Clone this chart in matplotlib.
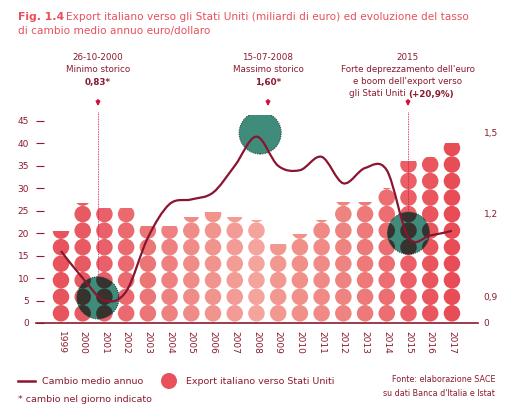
import matplotlib
matplotlib.use("Agg")
import matplotlib.pyplot as plt
import numpy as np
from matplotlib.patches import Ellipse, Rectangle
from matplotlib.path import Path
from matplotlib.patches import PathPatch

years = list(range(1999, 2018))
export = [20.5, 26.8, 25.5, 25.5, 21.5, 21.5, 23.5, 24.8, 23.5, 23.0, 17.5, 19.8, 23.0, 27.0, 27.0, 30.0, 36.0, 37.0, 40.0]
rate = [1.068, 0.969, 0.887, 0.920, 1.117, 1.240, 1.257, 1.282, 1.380, 1.487, 1.380, 1.364, 1.413, 1.316, 1.372, 1.364, 1.117, 1.125, 1.142]
colors = ["#e8545d", "#e85a62", "#e9606a", "#ea6a70", "#ec7676", "#ee8080", "#f08c88", "#f2948e", "#f39c95", "#f4a49c",
          "#f29890", "#f09088", "#ef8a84", "#ee8480", "#ed7a78", "#ec6e70", "#ea6066", "#e9565e", "#e84c56"]
right_ticks = ["0", "0,9", "1,2", "1,5"]

DARK = "#8b1a2e"
PINK = "#e8505b"

def r2u(v):
    return 5.8 + (np.asarray(v) - 0.9) * 60.8

W, H = 508, 412
fig = plt.figure(figsize=(W/100, H/100), dpi=100)
ax = fig.add_axes([36/W, (H-323)/H, 442/W, 208/H])
ax.set_xlim(1997.85, 2018.2)
ax.set_ylim(0, 46.3)
for s in ["top", "right", "left"]:
    ax.spines[s].set_visible(False)
ax.spines["bottom"].set_color(DARK)
ax.spines["bottom"].set_linewidth(1.2)

rx, ry = 0.38, 1.84
step = 3.68
for x, v, c in zip(years, export, colors):
    clip = Rectangle((x-0.5, 0), 1, v, transform=ax.transData, visible=False)
    ax.add_patch(clip)
    k = 0
    while 2.16 + k*step - ry < v:
        e = Ellipse((x, 2.16 + k*step), 2*rx, 2*ry, color=c, lw=0, zorder=2)
        ax.add_patch(e)
        e.set_clip_path(clip)
        k += 1

# green highlight circles
for (cx, cy) in [(2000.7, 5.6), (2008.17, 42.3), (2015.0, 20.0)]:
    circ = Ellipse((cx, cy), 2*21/21.7, 2*21/4.489, facecolor="#3f8c7a", edgecolor="#2d4a44",
                   lw=0.8, ls=(0, (1, 1)), zorder=3)
    ax.add_patch(circ)
    for x, v in zip(years, export):
        k = 0
        while 2.16 + k*step - ry < v:
            d = Ellipse((x, 2.16 + k*step), 2*rx, 2*ry, color="#36332f", lw=0, zorder=4)
            ax.add_patch(d)
            d.set_clip_path(circ)
            k += 1

# smooth line (Catmull-Rom -> Bezier)
pts = np.column_stack([years, r2u(rate)])
verts = [tuple(pts[0])]; codes = [Path.MOVETO]
for i in range(len(pts)-1):
    p0 = pts[max(i-1, 0)]; p1 = pts[i]; p2 = pts[i+1]; p3 = pts[min(i+2, len(pts)-1)]
    c1 = p1 + (p2 - p0)/6; c2 = p2 - (p3 - p1)/6
    verts += [tuple(c1), tuple(c2), tuple(p2)]; codes += [Path.CURVE4]*3
ax.add_patch(PathPatch(Path(verts, codes), fill=False, edgecolor="#8b1530", lw=1.6, zorder=5))

ax.set_yticks(range(0, 50, 5))
ax.tick_params(axis="y", direction="in", length=6, color=DARK, labelcolor=DARK, labelsize=6.5, pad=5)
ax.set_xticks(years)
ax.set_xticklabels([str(y) for y in years], rotation=-90, fontsize=6.5, color=DARK)
ax.tick_params(axis="x", length=0, pad=6)

ax2 = ax.twinx()
ax2.set_ylim(0, 46.3)
for s in ax2.spines.values():
    s.set_visible(False)
ax2.set_yticks([0, 5.8, 24.3, 42.3])
ax2.set_yticklabels(right_ticks)
ax2.tick_params(axis="y", length=0, labelcolor=DARK, labelsize=6.5, pad=4)

def fx(x): return x / W
def fy(y): return 1 - y / H
FS = 6.3
anns = [(98, ["26-10-2000", "Minimo storico"], "0,83*", 275),
        (268, ["15-07-2008", "Massimo storico"], "1,60*", None),
        (408, ["2015", "Forte deprezzamento dell'euro", "e boom dell'export verso"], None, 211)]
for x, lines, bold, ybot in anns:
    for i, l in enumerate(lines):
        fig.text(fx(x), fy(58 + 12*i), l, ha="center", va="center", fontsize=FS, color=DARK)
    if bold:
        fig.text(fx(x), fy(58 + 12*len(lines)), bold, ha="center", va="center", fontsize=FS, color=DARK, weight="bold")
    fig.patches.append(matplotlib.patches.FancyArrowPatch((fx(x), fy(97)), (fx(x), fy(109)), transform=fig.transFigure,
                       arrowstyle="-|>", mutation_scale=6, color="#d0103a", lw=1.2))
    if ybot:
        fig.add_artist(plt.Line2D([fx(x), fx(x)], [fy(112), fy(ybot)], transform=fig.transFigure,
                       color="#d0103a", lw=0.6, ls=(0, (1, 1))))
fig.text(fx(408), fy(94), "gli Stati Uniti ", ha="right", va="center", fontsize=FS, color=DARK)
fig.text(fx(408), fy(94), "(+20,9%)", ha="left", va="center", fontsize=FS, color=DARK, weight="bold")

fig.text(fx(18), fy(17), "Fig. 1.4", fontsize=7.8, color=PINK, weight="bold", va="center")
fig.text(fx(66), fy(17), "Export italiano verso gli Stati Uniti (miliardi di euro) ed evoluzione del tasso",
         fontsize=7.6, color=PINK, va="center")
fig.text(fx(18), fy(31), "di cambio medio annuo euro/dollaro", fontsize=7.6, color=PINK, va="center")

fig.add_artist(plt.Line2D([fx(18), fx(35)], [fy(381), fy(381)], transform=fig.transFigure, color="#8b1530", lw=1.8))
fig.text(fx(42), fy(381), "Cambio medio annuo", fontsize=6.8, color=DARK, va="center")
fig.add_artist(Ellipse((fx(169), fy(381)), 16/W, 16/H, transform=fig.transFigure, color=PINK, lw=0))
fig.text(fx(186), fy(381), "Export italiano verso Stati Uniti", fontsize=6.8, color=DARK, va="center")
fig.text(fx(495), fy(380), "Fonte: elaborazione SACE", fontsize=5.8, color=DARK, va="center", ha="right")
fig.text(fx(495), fy(393), "su dati Banca d'Italia e Istat", fontsize=5.8, color=DARK, va="center", ha="right")
fig.text(fx(18), fy(399), "* cambio nel giorno indicato", fontsize=6.8, color=DARK, va="center")

fig.savefig("out.png", dpi=100, facecolor="white")
